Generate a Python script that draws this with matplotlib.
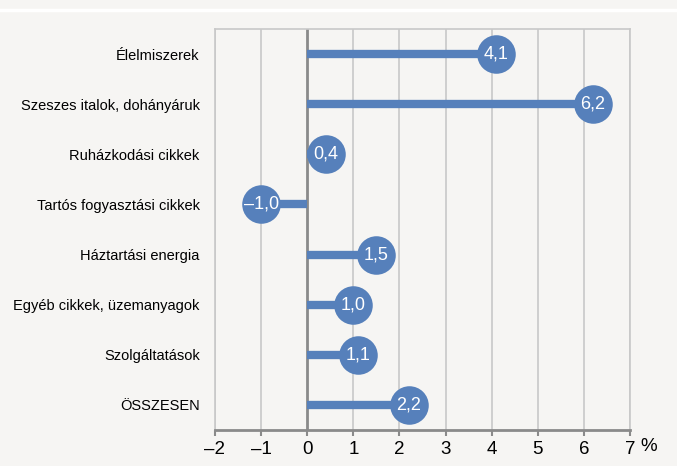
import matplotlib.pyplot as plt
from matplotlib import font_manager

# adatok
categories = ['Élelmiszerek', 'Szeszes italok, dohányáruk', 'Ruházkodási cikkek',
              'Tartós fogyasztási cikkek', 'Háztartási energia',
              'Egyéb cikkek, üzemanyagok', 'Szolgáltatások', 'ÖSSZESEN']
values = [4.1, 6.2, 0.4, -1.0, 1.5, 1.0, 1.1, 2.2]
xticks = [-2, -1, 0, 1, 2, 3, 4, 5, 6, 7]

names = {f.name for f in font_manager.fontManager.ttflist}
fam = ['Liberation Sans Narrow', 'Liberation Sans', 'DejaVu Sans']
fam = [f for f in fam if f in names] or ['DejaVu Sans']
plt.rcParams['font.family'] = fam

blue = '#5680bb'
bg = '#f6f5f3'
grid = '#c8c8c8'

fig = plt.figure(figsize=(6.77, 4.66), dpi=100, facecolor=bg)
ax = fig.add_axes([215 / 677, 1 - 430 / 466, 415 / 677, 401 / 466])
ax.set_facecolor(bg)

# weisse linie oben
fig.add_artist(plt.Line2D([0, 1], [1 - 10 / 466, 1 - 10 / 466], color='white', lw=2.5,
                          transform=fig.transFigure))

ypos = list(range(len(categories), 0, -1))
for x in xticks:
    if x == 0:
        ax.axvline(x, color='#8a8a8a', lw=2, zorder=1)
    else:
        ax.axvline(x, color=grid, lw=1.2, zorder=0)

ax.hlines(ypos, 0, values, color=blue, lw=6, zorder=2)
ax.scatter(values, ypos, s=770, color=blue, zorder=3, linewidths=0)
for v, y in zip(values, ypos):
    lbl = f'{v:.1f}'.replace('.', ',').replace('-', '–')
    ax.text(v, y, lbl, color='white', fontsize=13, ha='center', va='center', zorder=4)

ax.set_xlim(-2, 7)
ax.set_ylim(0.5, len(categories) + 0.5)
ax.set_xticks(xticks)
ax.set_xticklabels([str(x).replace('-', '–') for x in xticks], fontsize=13.5)
ax.set_yticks(ypos)
ax.set_yticklabels(categories, fontsize=10.5)
ax.tick_params(axis='y', length=0, pad=11)
ax.tick_params(axis='x', length=4, width=1.5, color='#8a8a8a', pad=4)

for s in ['top', 'right', 'left']:
    ax.spines[s].set_color(grid)
    ax.spines[s].set_linewidth(1.2)
ax.spines['bottom'].set_color('#8a8a8a')
ax.spines['bottom'].set_linewidth(2)

ax.text(7.22, -0.02, '%', fontsize=13.5, transform=ax.get_xaxis_transform(),
        ha='left', va='top')

fig.savefig('out.png', dpi=100, facecolor=bg)
